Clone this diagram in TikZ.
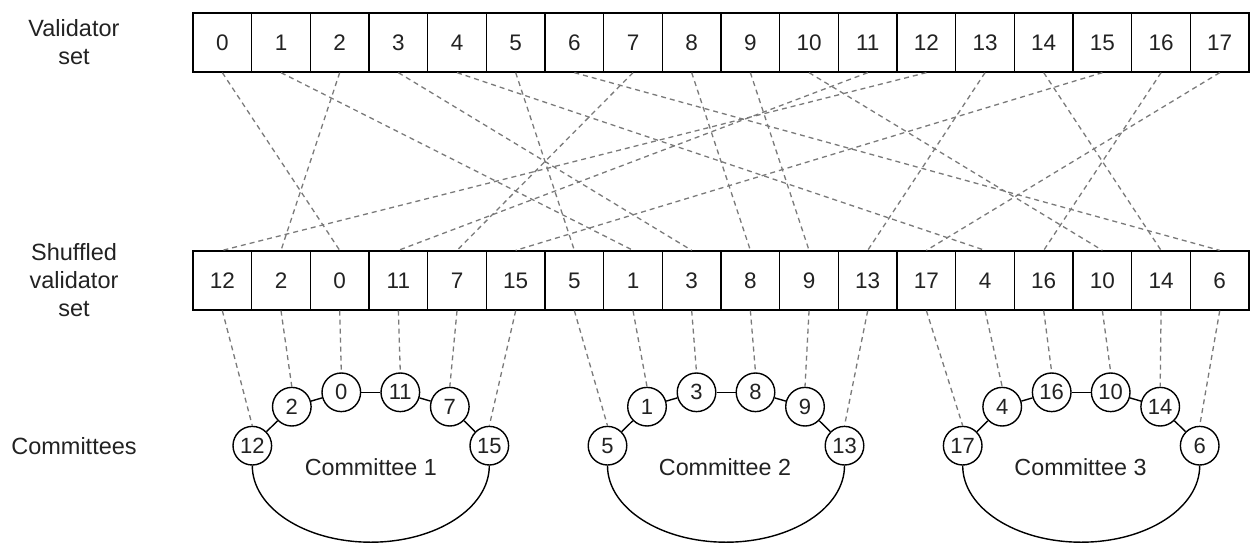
\documentclass[tikz,border=0pt]{standalone}
\usepackage{fontspec}
\setmainfont{Liberation Sans}
\definecolor{linkgray}{HTML}{7A7A7A}
\definecolor{ink}{HTML}{222222}
\begin{document}
\begin{tikzpicture}[x=1pt,y=-1pt,
  cell/.style={draw, line width=1.3pt, minimum width=58.67pt, minimum height=59pt,
    inner sep=0pt, text=ink, font=\fontsize{22.5}{26}\selectfont},
  member/.style={circle, draw, line width=1.4pt, minimum size=38.6pt, inner sep=0pt,
    fill=white, text=ink, font=\fontsize{22}{26}\selectfont},
  link/.style={draw=linkgray, line width=1.3pt, dash pattern=on 5pt off 4pt},
  ring/.style={line width=1.4pt},
  rowlabel/.style={align=center, text=ink, font=\fontsize{23.5}{28}\selectfont},
  grouplabel/.style={text=ink, font=\fontsize{23.3}{26}\selectfont}
]
\useasboundingbox (0,0) rectangle (1250,543);

% row labels
\node[rowlabel] (lblset) at (74,42.5) {Validator\\set};
\node[rowlabel] (lblshuf) at (74,280.5) {Shuffled\\validator\\set};
\node[rowlabel] (lblcom) at (74,445.7) {Committees};

% validator set (top row)
\foreach \v in {0,...,17}
  \node[cell] (v\v) at ({193+58.67*(\v+0.5)},42.5) {\v};

% shuffled validator set (middle row)
\foreach \v [count=\i from 0] in {12,2,0,11,7,15,5,1,3,8,9,13,17,4,16,10,14,6}
  \node[cell] (sh\v) at ({193+58.67*(\i+0.5)},280.5) {\v};

% shuffle mapping
\foreach \v in {0,...,17}
  \draw[link] (v\v.south) -- (sh\v.north);

% committee members
\foreach \v/\x/\y in {12/252.3/445.7, 2/291.8/406.7, 0/341.3/392.3, 11/400.3/392.3, 7/449.8/406.7, 15/489.3/445.7,
                      5/607.5/445.7, 1/647/406.7, 3/696.5/392.3, 8/755.5/392.3, 9/805/406.7, 13/844.5/445.7,
                      17/962.7/445.7, 4/1002.2/406.7, 16/1051.7/392.3, 10/1110.7/392.3, 14/1160.2/406.7, 6/1199.7/445.7}
  \node[member] (c\v) at (\x,\y) {\v};

% assignment of shuffled slots to committee members
\foreach \v in {12,2,0,11,7,15,5,1,3,8,9,13,17,4,16,10,14,6}
  \draw[link] (sh\v.south) -- (c\v.north);

% committee rings
\foreach \a/\b in {12/2, 2/0, 0/11, 11/7, 7/15, 5/1, 1/3, 3/8, 8/9, 9/13, 17/4, 4/16, 16/10, 10/14, 14/6}
  \draw[ring] (c\a) -- (c\b);
\foreach \a in {12,5,17}
  \draw[ring] (c\a.south) arc[start angle=180, end angle=360, x radius=118.5pt, y radius=76.5pt];

% committee names
\node[grouplabel] (name1) at (370.8,466.7) {Committee 1};
\node[grouplabel] (name2) at (725,466.7) {Committee 2};
\node[grouplabel] (name3) at (1080.5,466.7) {Committee 3};
\end{tikzpicture}
\end{document}
